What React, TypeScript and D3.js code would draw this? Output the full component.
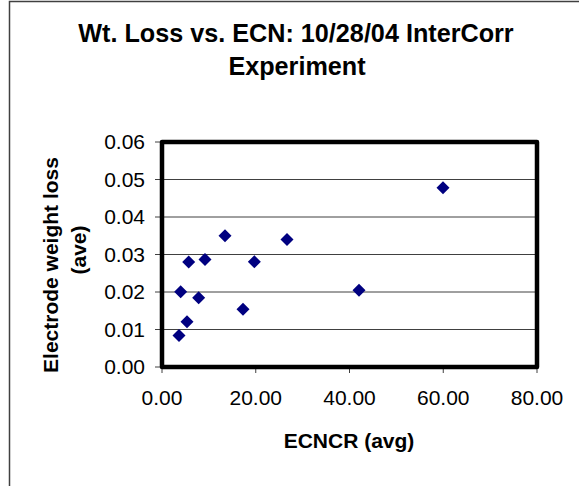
import React from "react";
import * as d3 from "d3";

const ecncrAvg: number[] = [3.63, 3.98, 5.33, 5.69, 7.82, 9.17, 13.44, 17.28, 19.7, 26.67, 42.03, 59.95];
const weightLoss: number[] = [0.0084, 0.0201, 0.0121, 0.028, 0.0185, 0.0287, 0.035, 0.0154, 0.0281, 0.034, 0.0205, 0.0478];
const xTicks: number[] = [0, 20, 40, 60, 80];
const yTicks: number[] = [0, 0.01, 0.02, 0.03, 0.04, 0.05, 0.06];
const titleLines: string[] = ["Wt. Loss vs. ECN: 10/28/04 InterCorr", "Experiment"];
const xTitle = "ECNCR (avg)";
const yTitleLines: string[] = ["Electrode weight loss", "(ave)"];

const W = 579;
const H = 486;
const FONT = "'Liberation Sans', Arial, sans-serif";

export default function App() {
  const left = 162, right = 537, top = 142, bottom = 367;
  const x = d3.scaleLinear().domain([0, 80]).range([left, right]);
  const y = d3.scaleLinear().domain([0, 0.06]).range([bottom, top]);
  const r = 6.5;
  const diamond = (cx: number, cy: number) =>
    `M${cx},${cy - r}L${cx + r},${cy}L${cx},${cy + r}L${cx - r},${cy}Z`;

  return (
    <svg
      width={W}
      height={H}
      style={{ position: "absolute", left: 0, top: 0, background: "#fff" }}
      fontFamily={FONT}
    >
      <rect x={0} y={0} width={W} height={H} fill="#fff" />
      {/* outer chart frame */}
      <rect x={9.5} y={1.5} width={W + 20} height={H + 20} fill="none" stroke="#404040" strokeWidth={1.5} />

      {/* title */}
      <text x={296} y={42} textAnchor="middle" fontSize={25.2} fontWeight="bold" fill="#000">
        {titleLines[0]}
      </text>
      <text x={297} y={75} textAnchor="middle" fontSize={25.2} fontWeight="bold" fill="#000">
        {titleLines[1]}
      </text>

      {/* gridlines */}
      {yTicks.slice(1, -1).map((t) => (
        <line key={"g" + t} x1={left} x2={right} y1={y(t)} y2={y(t)} stroke="#404040" strokeWidth={1} />
      ))}

      {/* y ticks + labels */}
      {yTicks.map((t) => (
        <g key={"y" + t}>
          <line x1={left - 7} x2={left} y1={y(t)} y2={y(t)} stroke="#404040" strokeWidth={1} />
          <text x={145} y={y(t)} dy="0.35em" textAnchor="end" fontSize={21} fill="#000">
            {d3.format(".2f")(t)}
          </text>
        </g>
      ))}

      {/* x ticks + labels */}
      {xTicks.map((t) => (
        <g key={"x" + t}>
          <line x1={x(t)} x2={x(t)} y1={bottom} y2={bottom + 6} stroke="#404040" strokeWidth={1} />
          <text x={x(t)} y={405} textAnchor="middle" fontSize={21} fill="#000">
            {d3.format(".2f")(t)}
          </text>
        </g>
      ))}

      {/* plot border */}
      <rect
        x={left}
        y={top}
        width={right - left}
        height={bottom - top}
        fill="none"
        stroke="#000"
        strokeWidth={4.5}
        strokeLinejoin="round"
      />

      {/* points */}
      {ecncrAvg.map((v, i) => (
        <path key={"p" + i} d={diamond(x(v), y(weightLoss[i]))} fill="#000080" />
      ))}

      {/* axis titles */}
      <text x={349} y={448} textAnchor="middle" fontSize={21} fontWeight="bold" fill="#000">
        {xTitle}
      </text>
      <text
        transform={`translate(58,265) rotate(-90)`}
        textAnchor="middle"
        fontSize={21}
        fontWeight="bold"
        fill="#000"
      >
        {yTitleLines[0]}
      </text>
      <text
        transform={`translate(86,250) rotate(-90)`}
        textAnchor="middle"
        fontSize={21}
        fontWeight="bold"
        fill="#000"
      >
        {yTitleLines[1]}
      </text>
    </svg>
  );
}
